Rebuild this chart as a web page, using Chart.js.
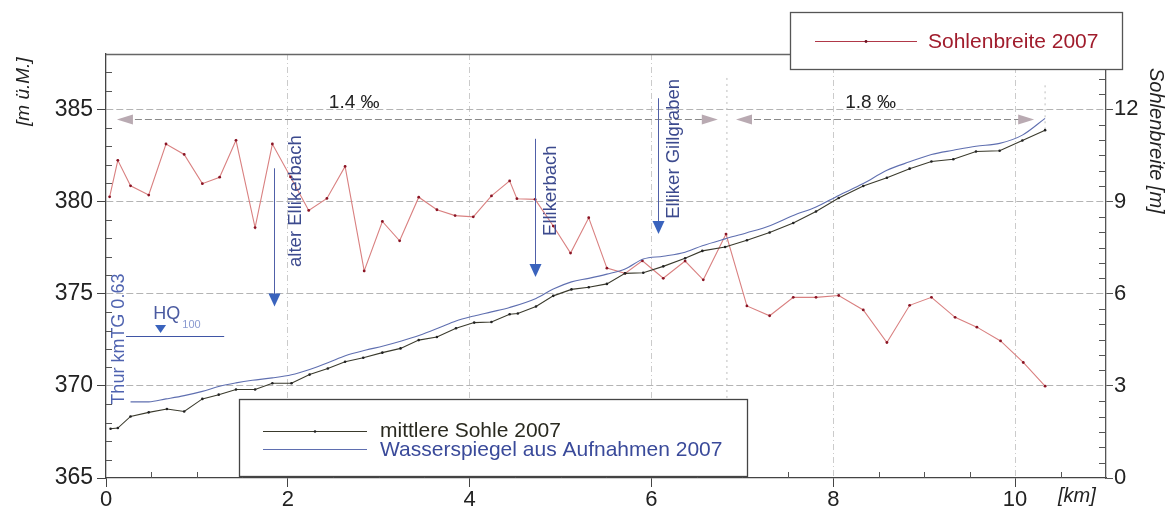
<!DOCTYPE html>
<html>
<head>
<meta charset="utf-8">
<script src="https://cdn.jsdelivr.net/npm/chart.js@4.4.1/dist/chart.umd.min.js"></script>
<style>
  html, body { margin: 0; padding: 0; background: #fff; }
</style>
</head>
<body>
<canvas id="myChart" width="1170" height="513"></canvas>
<script>
// mittlere Sohle 2007 [m ü.M.]
const sohleKm = [0.05, 0.13, 0.27, 0.47, 0.67, 0.86, 1.06, 1.24, 1.43, 1.64, 1.83, 2.04, 2.24, 2.44, 2.63, 2.83, 3.04, 3.24, 3.44, 3.64,
  3.85, 4.05, 4.24, 4.44, 4.53, 4.73, 4.92, 5.12, 5.31, 5.51, 5.71, 5.91, 6.13, 6.37, 6.56, 6.81, 7.05, 7.30, 7.56, 7.81,
  8.06, 8.33, 8.59, 8.84, 9.08, 9.32, 9.57, 9.83, 10.08, 10.33];
const sohleM = [367.67, 367.71, 368.34, 368.56, 368.74, 368.61, 369.29, 369.52, 369.80, 369.80, 370.14, 370.14, 370.61, 370.94, 371.31, 371.52, 371.80, 372.03, 372.48, 372.65,
  373.12, 373.43, 373.46, 373.88, 373.92, 374.30, 374.88, 375.23, 375.35, 375.53, 376.10, 376.13, 376.48, 376.92, 377.32, 377.53, 377.90, 378.32, 378.83, 379.46,
  380.19, 380.84, 381.29, 381.78, 382.17, 382.29, 382.71, 382.75, 383.31, 383.87];

// Wasserspiegel aus Aufnahmen 2007 [m ü.M.]
const wspKm = [0.27, 0.47, 0.66, 0.86, 1.06, 1.25, 1.43, 1.61, 1.83, 2.04, 2.24, 2.44, 2.64, 2.86, 3.05, 3.25, 3.45, 3.67, 3.85, 4.05,
  4.24, 4.44, 4.73, 4.92, 5.12, 5.31, 5.51, 5.71, 5.91, 6.13, 6.37, 6.56, 6.81, 7.05, 7.31, 7.56, 7.81, 8.06, 8.33, 8.59,
  8.84, 9.08, 9.32, 9.57, 9.83, 10.08, 10.33];
const wspM = [369.13, 369.13, 369.29, 369.47, 369.70, 369.98, 370.16, 370.30, 370.43, 370.60, 370.89, 371.25, 371.65, 371.94, 372.16, 372.43, 372.74, 373.16, 373.52, 373.79,
  374.01, 374.25, 374.74, 375.25, 375.64, 375.83, 376.06, 376.34, 376.88, 377.03, 377.25, 377.60, 377.97, 378.30, 378.70, 379.24, 379.70, 380.33, 380.97, 381.69,
  382.15, 382.55, 382.78, 383.00, 383.15, 383.60, 384.51];

// Sohlenbreite 2007 [m]
const breiteKm = [0.04, 0.13, 0.27, 0.47, 0.66, 0.86, 1.06, 1.25, 1.43, 1.64, 1.83, 2.03, 2.23, 2.43, 2.63, 2.84, 3.04, 3.23, 3.44, 3.64,
  3.84, 4.04, 4.24, 4.44, 4.52, 4.72, 4.92, 5.11, 5.31, 5.51, 5.71, 5.90, 6.13, 6.37, 6.57, 6.82, 7.05, 7.30, 7.56, 7.81,
  8.06, 8.33, 8.59, 8.84, 9.08, 9.34, 9.58, 9.84, 10.09, 10.33];
const breiteM = [9.15, 10.34, 9.51, 9.21, 10.87, 10.53, 9.58, 9.79, 10.99, 8.15, 10.87, 9.8, 8.71, 9.10, 10.14, 6.74, 8.35, 7.72, 9.14, 8.73,
  8.54, 8.50, 9.18, 9.67, 9.09, 9.07, 8.2, 7.32, 8.47, 6.83, 6.66, 7.07, 6.50, 7.06, 6.45, 7.94, 5.60, 5.28, 5.88, 5.88,
  5.94, 5.47, 4.41, 5.62, 5.88, 5.23, 4.91, 4.46, 3.76, 2.99];

// tick labels
const kmTicks = [0, 2, 4, 6, 8, 10];
const hoeheTicks = [365, 370, 375, 380, 385];
const breiteTicks = [0, 3, 6, 9, 12];

// Gefälle-Abschnitte
const gefaelleText = ['1.4 ‰', '1.8 ‰'];
const gefaelleVon = [0.12, 6.93];
const gefaelleBis = [6.73, 10.21];
const gefaelleTextKm = [2.73, 8.41];

// Zuflüsse
const zuflussName = ['alter Ellikerbach', 'Ellikerbach', 'Elliker Gillgraben'];
const zuflussKm = [1.845, 4.72, 6.07];
const zuflussOben = [381.8, 383.4, 385.6];
const zuflussSpitze = [374.3, 375.9, 378.24];
const zuflussTextUnten = [376.45, 378.13, 379.06];

const hq100Km = [0.22, 1.30];
const hq100M = 372.7;

Chart.defaults.font.family = "'Liberation Sans', Arial, sans-serif";
Chart.defaults.color = '#222';

const FONT = "'Liberation Sans', Arial, sans-serif";

function dreieck(c, x, yTip, w, h, col) {
  c.beginPath();
  c.moveTo(x, yTip);
  c.lineTo(x - w / 2, yTip - h);
  c.lineTo(x + w / 2, yTip - h);
  c.closePath();
  c.fillStyle = col;
  c.fill();
}

function pfeilspitze(c, x, y, dir) {
  c.beginPath();
  c.moveTo(x, y);
  c.lineTo(x - dir * 16, y - 5);
  c.lineTo(x - dir * 16, y + 5);
  c.closePath();
  c.fill();
}

function senkrecht(c, text, x, y, font, col, rot) {
  c.save();
  c.translate(x, y);
  c.rotate(rot);
  c.font = font;
  c.fillStyle = col;
  c.textAlign = 'left';
  c.textBaseline = 'middle';
  c.fillText(text, 0, 0);
  c.restore();
}

const zeichnung = {
  id: 'zeichnung',
  beforeDatasetsDraw(chart) {
    const c = chart.ctx, x = chart.scales.x, y = chart.scales.y;
    c.save();
    // Abschnittsgrenzen
    c.strokeStyle = '#bdbdbd';
    c.lineWidth = 1;
    c.setLineDash([2, 4]);
    c.beginPath();
    c.moveTo(x.getPixelForValue(6.83), y.getPixelForValue(386.7));
    c.lineTo(x.getPixelForValue(6.83), y.getPixelForValue(365));
    c.moveTo(x.getPixelForValue(10.33), y.getPixelForValue(386.3));
    c.lineTo(x.getPixelForValue(10.33), y.getPixelForValue(383.9));
    c.stroke();
    // Gefälle-Pfeile
    const ya = Math.round(y.getPixelForValue(384.5)) + 0.5;
    c.strokeStyle = '#8a8a8a';
    c.setLineDash([7, 3]);
    c.fillStyle = '#b9aab2';
    gefaelleVon.forEach((v, i) => {
      const x0 = x.getPixelForValue(v), x1 = x.getPixelForValue(gefaelleBis[i]);
      c.beginPath();
      c.moveTo(x0 + 8, ya);
      c.lineTo(x1 - 8, ya);
      c.stroke();
      pfeilspitze(c, x0, ya, -1);
      pfeilspitze(c, x1, ya, 1);
    });
    c.setLineDash([]);
    c.font = '19px ' + FONT;
    c.fillStyle = '#222';
    c.textAlign = 'center';
    c.textBaseline = 'middle';
    gefaelleText.forEach((t, i) => {
      c.fillText(t, x.getPixelForValue(gefaelleTextKm[i]), y.getPixelForValue(385.33));
    });
    c.restore();
  },
  afterDatasetsDraw(chart) {
    const c = chart.ctx, x = chart.scales.x, y = chart.scales.y;
    c.save();
    // Zuflüsse
    zuflussName.forEach((n, i) => {
      const xx = Math.round(x.getPixelForValue(zuflussKm[i])) + 0.5;
      const yTip = y.getPixelForValue(zuflussSpitze[i]);
      c.strokeStyle = '#5060a8';
      c.lineWidth = 1;
      c.beginPath();
      c.moveTo(xx, y.getPixelForValue(zuflussOben[i]));
      c.lineTo(xx, yTip - 10);
      c.stroke();
      dreieck(c, xx, yTip, 12, 13, '#3a63bd');
      const dx = i === 0 ? 21 : 15;
      senkrecht(c, n, xx + dx, y.getPixelForValue(zuflussTextUnten[i]), '18.5px ' + FONT, '#3c4a8e', -Math.PI / 2);
    });
    // HQ100
    const yh = Math.round(y.getPixelForValue(hq100M)) + 0.5;
    c.strokeStyle = '#3f55a5';
    c.beginPath();
    c.moveTo(x.getPixelForValue(hq100Km[0]), yh);
    c.lineTo(x.getPixelForValue(hq100Km[1]), yh);
    c.stroke();
    dreieck(c, x.getPixelForValue(0.60), yh - 3.5, 11, 8, '#3a63bd');
    c.font = '18px ' + FONT;
    c.fillStyle = '#4a5aa0';
    c.textAlign = 'left';
    c.textBaseline = 'alphabetic';
    const xq = x.getPixelForValue(0.52), yq = y.getPixelForValue(373.61);
    c.fillText('HQ', xq, yq);
    const wq = c.measureText('HQ').width;
    c.font = '11px ' + FONT;
    c.fillStyle = '#8a9ad0';
    c.fillText('100', xq + wq + 2, yq + 9);
    // Thur km
    senkrecht(c, 'Thur kmTG 0.63', x.getPixelForValue(0.143), y.getPixelForValue(368.98), '18px ' + FONT, '#4f63b0', -Math.PI / 2);
    c.restore();
  },
  afterDraw(chart) {
    const c = chart.ctx, a = chart.chartArea;
    const x = chart.scales.x, y = chart.scales.y, y1 = chart.scales.y1;
    c.save();
    c.lineWidth = 1;
    c.strokeStyle = '#555';
    c.beginPath();
    // kleine Striche nach innen
    for (let v = 366; v <= 387; v++) {
      if (v % 5 === 0) continue;
      const yy = Math.round(y.getPixelForValue(v)) + 0.5;
      c.moveTo(a.left, yy); c.lineTo(a.left + 6, yy);
    }
    for (let k = 1; k <= 27; k++) {
      const v = k * 0.5;
      if (v % 3 === 0) continue;
      const yy = Math.round(y1.getPixelForValue(v)) + 0.5;
      c.moveTo(a.right - 7, yy); c.lineTo(a.right, yy);
    }
    for (let k = 1; k <= 21; k++) {
      const v = k * 0.5;
      if (v % 2 === 0) continue;
      const xx = Math.round(x.getPixelForValue(v)) + 0.5;
      c.moveTo(xx, a.bottom - 6); c.lineTo(xx, a.bottom);
    }
    c.stroke();
    // Rahmen oben
    c.strokeStyle = '#666';
    c.lineWidth = 1.3;
    c.beginPath();
    c.moveTo(a.left, a.top + 0.5); c.lineTo(a.right, a.top + 0.5);
    c.stroke();

    // Achsentitel
    senkrecht(c, '[m ü.M.]', 24, 126, 'italic 19px ' + FONT, '#222', -Math.PI / 2);
    senkrecht(c, 'Sohlenbreite [m]', 1156, 68, 'italic 20px ' + FONT, '#222', Math.PI / 2);
    c.font = 'italic 20px ' + FONT;
    c.fillStyle = '#222';
    c.textAlign = 'left';
    c.textBaseline = 'middle';
    c.fillText('[km]', 1058, 496);

    // Legende oben rechts
    c.fillStyle = '#fff';
    c.fillRect(790.5, 12.5, 332, 57);
    c.strokeStyle = '#555';
    c.lineWidth = 1.3;
    c.strokeRect(790.5, 12.5, 332, 57);
    c.strokeStyle = '#b03848';
    c.lineWidth = 1.1;
    c.beginPath(); c.moveTo(815, 41.5); c.lineTo(917, 41.5); c.stroke();
    c.fillStyle = '#6a1020';
    c.beginPath(); c.arc(866, 41.5, 1.4, 0, Math.PI * 2); c.fill();
    c.font = '21px ' + FONT;
    c.fillStyle = '#a01c2c';
    c.fillText('Sohlenbreite 2007', 928, 42);

    // Legende unten
    c.fillStyle = '#fff';
    c.fillRect(239.5, 399.5, 508, 77);
    c.strokeStyle = '#444';
    c.lineWidth = 1.3;
    c.strokeRect(239.5, 399.5, 508, 77);
    c.lineWidth = 1.1;
    c.strokeStyle = '#3a3a2c';
    c.beginPath(); c.moveTo(263, 431.5); c.lineTo(367, 431.5); c.stroke();
    c.fillStyle = '#222';
    c.beginPath(); c.arc(315, 431.5, 1.3, 0, Math.PI * 2); c.fill();
    c.strokeStyle = '#5f6fb0';
    c.beginPath(); c.moveTo(263, 449.5); c.lineTo(367, 449.5); c.stroke();
    c.font = '21px ' + FONT;
    c.fillStyle = '#2a2a20';
    c.fillText('mittlere Sohle 2007', 380, 431);
    c.fillStyle = '#3a4a9a';
    c.fillText('Wasserspiegel aus Aufnahmen 2007', 380, 450);
    c.restore();
  }
};

const pt = (xs, ys) => xs.map((v, i) => ({ x: v, y: ys[i] }));

const ctx = document.getElementById('myChart');

new Chart(ctx, {
  type: 'line',
  data: {
    datasets: [{
      label: 'mittlere Sohle 2007',
      data: pt(sohleKm, sohleM),
      yAxisID: 'y',
      borderColor: '#3a3a2c',
      borderWidth: 1.1,
      pointRadius: 1.3,
      pointBackgroundColor: '#222',
      pointBorderWidth: 0
    }, {
      label: 'Wasserspiegel aus Aufnahmen 2007',
      data: pt(wspKm, wspM),
      yAxisID: 'y',
      borderColor: '#5f6fb0',
      borderWidth: 1.1,
      pointRadius: 0,
      cubicInterpolationMode: 'monotone'
    }, {
      label: 'Sohlenbreite 2007',
      data: pt(breiteKm, breiteM),
      yAxisID: 'y1',
      borderColor: '#d98080',
      borderWidth: 1.1,
      pointRadius: 1.4,
      pointBackgroundColor: '#8a1424',
      pointBorderWidth: 0
    }]
  },
  options: {
    responsive: false,
    animation: false,
    devicePixelRatio: 1,
    layout: { padding: { top: 54, left: 0, right: 0, bottom: 0 } },
    plugins: { legend: { display: false }, tooltip: { enabled: false } },
    scales: {
      x: {
        type: 'linear',
        min: 0,
        max: 11,
        afterBuildTicks: s => { s.ticks = kmTicks.map(v => ({ value: v })); },
        afterFit: s => { s.height = 35; },
        ticks: { font: { size: 22 }, color: '#222', padding: 0, maxRotation: 0 },
        grid: {
          color: c => (c.tick && c.tick.value === 0) ? 'rgba(0,0,0,0)' : '#cbcbcb',
          lineWidth: 1,
          tickLength: 9,
          tickColor: '#444'
        },
        border: { color: '#444', width: 1.3, dash: [6, 3, 1, 3] }
      },
      y: {
        type: 'linear',
        position: 'left',
        min: 365,
        max: 388,
        afterBuildTicks: s => { s.ticks = hoeheTicks.map(v => ({ value: v })); },
        afterFit: s => { s.width = 106; },
        ticks: { font: { size: 23 }, color: '#222', padding: 4 },
        grid: {
          color: c => (c.tick && c.tick.value === 365) ? 'rgba(0,0,0,0)' : '#b4b4b4',
          lineWidth: 1,
          tickLength: 9,
          tickColor: '#444'
        },
        border: { color: '#444', width: 1.3, dash: [7, 3] }
      },
      y1: {
        type: 'linear',
        position: 'right',
        min: 0,
        max: 13.8,
        afterBuildTicks: s => { s.ticks = breiteTicks.map(v => ({ value: v })); },
        afterFit: s => { s.width = 64; },
        ticks: { font: { size: 22 }, color: '#222', padding: 1 },
        grid: { drawOnChartArea: false, tickLength: 7, tickColor: '#555' },
        border: { color: '#555', width: 1.3 }
      }
    }
  },
  plugins: [zeichnung]
});
</script>
</body>
</html>
